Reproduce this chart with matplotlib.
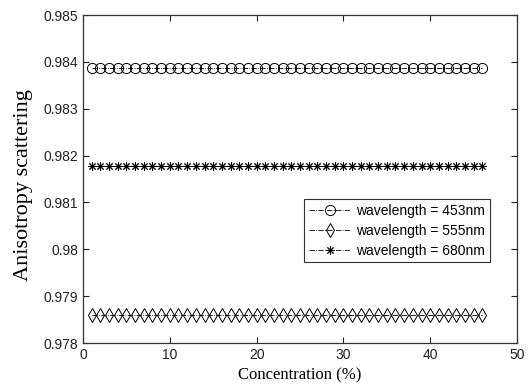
import matplotlib
matplotlib.use("Agg")
import matplotlib.pyplot as plt

# Data
concentration = list(range(1, 47))
g_453 = [0.98387] * len(concentration)
g_555 = [0.97859] * len(concentration)
g_680 = [0.98177] * len(concentration)
labels = ["wavelength = 453nm", "wavelength = 555nm", "wavelength = 680nm"]
xticks = [0, 10, 20, 30, 40, 50]
yticks = [0.978, 0.979, 0.98, 0.981, 0.982, 0.983, 0.984, 0.985]
yticklabels = ["0.978", "0.979", "0.98", "0.981", "0.982", "0.983", "0.984", "0.985"]

plt.rcParams['font.family'] = ['Liberation Sans', 'DejaVu Sans']

fig = plt.figure(figsize=(5.29, 3.92), dpi=100)
ax = fig.add_axes([83/529, 1-343/392, (517-83)/529, (343-15)/392])

common = dict(color='black', linestyle='-.', linewidth=0.6, markerfacecolor='none',
              markeredgecolor='black', markeredgewidth=0.7)
ax.plot(concentration, g_453, marker='o', markersize=7.3, label=labels[0], **common)
ax.plot(concentration, g_555, marker='d', markersize=7, label=labels[1], **common)
ax.plot(concentration, g_680, marker=(8, 2, 0), markersize=6, label=labels[2], **common)

ax.set_xlim(0, 50)
ax.set_ylim(0.978, 0.985)
ax.set_xticks(xticks)
ax.set_yticks(yticks)
ax.set_yticklabels(yticklabels)
ax.tick_params(direction='in', length=4, width=0.8, labelsize=10, colors='#222222',
               top=True, right=True)
for s in ax.spines.values():
    s.set_linewidth(0.9)
    s.set_color('#333333')

ax.set_xlabel("Concentration (%)", family='Liberation Serif', fontsize=12, labelpad=4)
ax.set_ylabel("Anisotropy scattering", family='Liberation Serif', fontsize=16, labelpad=4)
ax.yaxis.set_label_coords(-0.115, 0.48)

leg = ax.legend(loc='upper left', bbox_to_anchor=((304-83)/434, (343-199)/328),
                fontsize=10, frameon=True, fancybox=False, edgecolor='black',
                handlelength=3, borderpad=0.35, labelspacing=0.42, handletextpad=0.4,
                borderaxespad=0)
leg.get_frame().set_linewidth(0.8)

fig.savefig("out.png", dpi=100)
